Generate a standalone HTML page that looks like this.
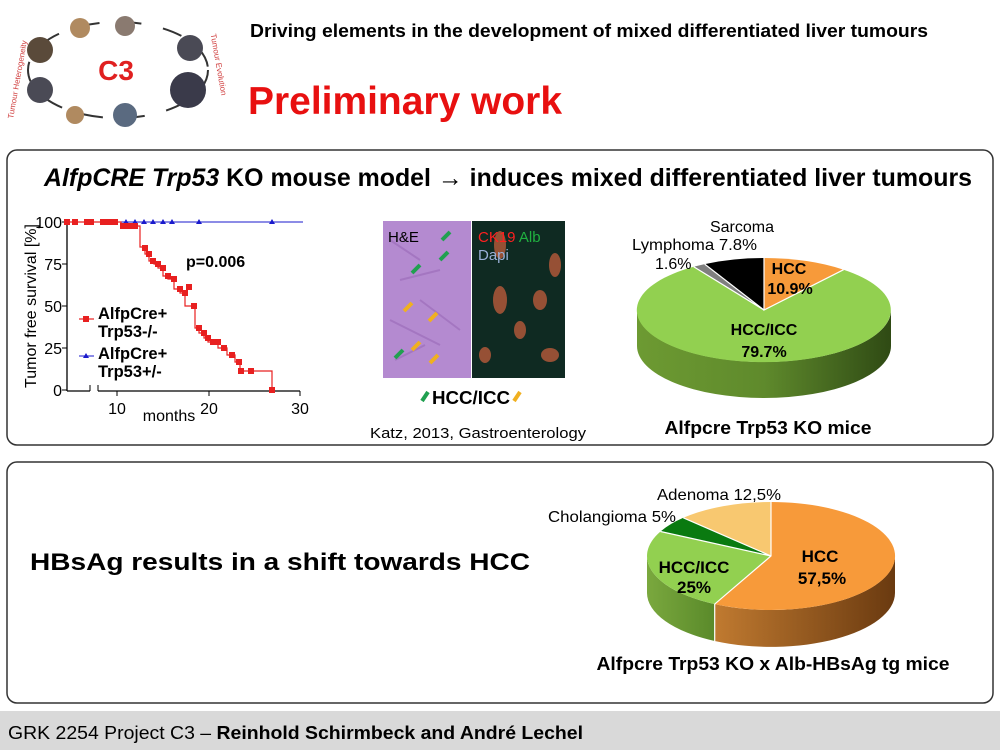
<!DOCTYPE html>
<html><head><meta charset="utf-8"><style>
body{margin:0;width:1000px;height:750px;overflow:hidden;background:#fff;font-family:"Liberation Sans",Arial,sans-serif;}
</style></head><body>
<svg width="1000" height="750" viewBox="0 0 1000 750" xmlns="http://www.w3.org/2000/svg" font-family="Liberation Sans, Arial, sans-serif">
<defs>
<linearGradient id="gs" x1="0" x2="1" y1="0" y2="0"><stop offset="0" stop-color="#6d9a32"/><stop offset="0.5" stop-color="#5f8a2c"/><stop offset="1" stop-color="#2f4a14"/></linearGradient>
<linearGradient id="os" x1="0" x2="1"><stop offset="0" stop-color="#c07a30"/><stop offset="1" stop-color="#6a3a10"/></linearGradient>
<linearGradient id="g2" x1="0" x2="1"><stop offset="0" stop-color="#7aa83e"/><stop offset="1" stop-color="#5a8a2a"/></linearGradient>
</defs>
<g>
<ellipse cx="118" cy="70" rx="90" ry="48" fill="none" stroke="#333" stroke-width="2" stroke-dasharray="20 22"/>
<circle cx="40" cy="50" r="13" fill="#5a4a3a"/><circle cx="40" cy="90" r="13" fill="#4a4a55"/>
<circle cx="80" cy="28" r="10" fill="#b08a60"/><circle cx="125" cy="26" r="10" fill="#8a7a70"/>
<circle cx="190" cy="48" r="13" fill="#4a4a55"/><circle cx="188" cy="90" r="18" fill="#3a3a4a"/>
<circle cx="75" cy="115" r="9" fill="#b08a60"/><circle cx="125" cy="115" r="12" fill="#5a6a80"/>
<text x="116" y="80" font-size="28" font-weight="bold" fill="#e02020" text-anchor="middle">C3</text>
<text transform="translate(20,80) rotate(-80)" font-size="8" fill="#d04040" text-anchor="middle">Tumour Heterogeneity</text>
<text transform="translate(216,65) rotate(80)" font-size="8" fill="#d04040" text-anchor="middle">Tumour Evolution</text>
</g>
<text x="250" y="37" font-size="18" font-weight="bold" fill="#000" textLength="678" lengthAdjust="spacingAndGlyphs">Driving elements in the development of mixed differentiated liver tumours</text>
<text x="248" y="114" font-size="39" font-weight="bold" fill="#e81010" textLength="314" lengthAdjust="spacingAndGlyphs">Preliminary work</text>
<rect x="7" y="150" width="986" height="295" rx="10" fill="none" stroke="#333" stroke-width="1.5"/>
<rect x="7" y="462" width="986" height="241" rx="10" fill="none" stroke="#333" stroke-width="1.5"/>
<text x="44" y="186" font-size="25" font-weight="bold" fill="#000" textLength="928" lengthAdjust="spacingAndGlyphs"><tspan font-style="italic">AlfpCRE Trp53</tspan> KO mouse model → induces mixed differentiated liver tumours</text>
<g font-size="15">
<line x1="67" y1="222" x2="67" y2="391" stroke="#000" stroke-width="1.3"/>
<line x1="67" y1="391" x2="90" y2="391" stroke="#000" stroke-width="1.3"/>
<line x1="98" y1="391" x2="300" y2="391" stroke="#000" stroke-width="1.3"/>
<line x1="90" y1="391" x2="90" y2="385" stroke="#000"/><line x1="98" y1="391" x2="98" y2="385" stroke="#000"/>
<g stroke="#000"><line x1="62" y1="222" x2="67" y2="222"/><line x1="62" y1="264" x2="67" y2="264"/><line x1="62" y1="306" x2="67" y2="306"/><line x1="62" y1="348" x2="67" y2="348"/><line x1="62" y1="390" x2="67" y2="390"/>
<line x1="117" y1="391" x2="117" y2="396"/><line x1="209" y1="391" x2="209" y2="396"/><line x1="300" y1="391" x2="300" y2="396"/></g>
<g text-anchor="end" font-size="16"><text x="62" y="228">100</text><text x="62" y="270">75</text><text x="62" y="312">50</text><text x="62" y="354">25</text><text x="62" y="396">0</text></g>
<g text-anchor="middle" font-size="16"><text x="117" y="414">10</text><text x="209" y="414">20</text><text x="300" y="414">30</text><text x="169" y="421">months</text></g>
<text transform="translate(36,306) rotate(-90)" font-size="16" text-anchor="middle">Tumor free survival [%]</text>
<text x="186" y="267" font-size="16" font-weight="bold">p=0.006</text>
<polyline fill="none" stroke="#1a1acc" stroke-width="1" points="67,222 303,222"/>
<g fill="#1a1acc"><path d="M126,219 l3,5 h-6z"/><path d="M135,219 l3,5 h-6z"/><path d="M144,219 l3,5 h-6z"/><path d="M153,219 l3,5 h-6z"/><path d="M163,219 l3,5 h-6z"/><path d="M172,219 l3,5 h-6z"/><path d="M199,219 l3,5 h-6z"/><path d="M272,219 l3,5 h-6z"/></g>
<polyline fill="none" stroke="#e82020" stroke-width="1.2" points="67,222 121,222 121,226 140,226 140,247 145,247 145,254 149,254 149,261 154,261 154,264 158,264 158,268 163,268 163,276 168,276 168,279 174,279 174,289 180,289 180,293 185,293 185,306 195,306 195,328 199,328 199,333 204,333 204,338 208,338 208,342 218,342 218,348 227,348 227,355 235,355 235,362 240,362 240,371 272,371 272,390"/>
<g fill="#e82020"><rect x="64" y="219" width="6" height="6"/><rect x="72" y="219" width="6" height="6"/><rect x="84" y="219" width="6" height="6"/><rect x="88" y="219" width="6" height="6"/><rect x="100" y="219" width="6" height="6"/><rect x="106" y="219" width="6" height="6"/><rect x="112" y="219" width="6" height="6"/><rect x="120" y="223" width="6" height="6"/><rect x="126" y="223" width="6" height="6"/><rect x="132" y="223" width="6" height="6"/>
<rect x="142" y="245" width="6" height="6"/><rect x="146" y="251" width="6" height="6"/><rect x="150" y="258" width="6" height="6"/><rect x="155" y="261" width="6" height="6"/><rect x="160" y="265" width="6" height="6"/><rect x="165" y="273" width="6" height="6"/><rect x="171" y="276" width="6" height="6"/><rect x="177" y="286" width="6" height="6"/><rect x="182" y="290" width="6" height="6"/><rect x="186" y="284" width="6" height="6"/><rect x="191" y="303" width="6" height="6"/><rect x="196" y="325" width="6" height="6"/><rect x="201" y="330" width="6" height="6"/><rect x="205" y="335" width="6" height="6"/><rect x="210" y="339" width="6" height="6"/><rect x="215" y="339" width="6" height="6"/><rect x="221" y="345" width="6" height="6"/><rect x="229" y="352" width="6" height="6"/><rect x="236" y="359" width="6" height="6"/><rect x="238" y="368" width="6" height="6"/><rect x="248" y="368" width="6" height="6"/><rect x="269" y="387" width="6" height="6"/></g>
<line x1="79" y1="319" x2="94" y2="319" stroke="#e82020" stroke-width="1.2"/><rect x="83" y="316" width="6" height="6" fill="#e82020"/>
<line x1="79" y1="356" x2="94" y2="356" stroke="#1a1acc"/><path d="M86,353 l3,5 h-6z" fill="#1a1acc"/>
<g font-size="16.5" font-weight="bold"><text x="98" y="319">AlfpCre+</text><text x="98" y="337">Trp53-/-</text><text x="98" y="359">AlfpCre+</text><text x="98" y="377">Trp53+/-</text></g>
</g>
<rect x="383" y="221" width="88" height="157" fill="#b48ad0"/>
<g stroke="#9a6ab8" stroke-width="2" opacity="0.6"><path d="M390,240 l30,20 M400,280 l40,-10 M390,320 l50,25 M420,300 l40,30 M395,360 l30,-15"/></g>
<rect x="472" y="221" width="93" height="157" fill="#0f2a22"/>
<g fill="#b85a3a" opacity="0.8"><ellipse cx="500" cy="300" rx="7" ry="14"/><ellipse cx="555" cy="265" rx="6" ry="12"/><ellipse cx="540" cy="300" rx="7" ry="10"/><ellipse cx="520" cy="330" rx="6" ry="9"/><ellipse cx="550" cy="355" rx="9" ry="7"/><ellipse cx="485" cy="355" rx="6" ry="8"/><ellipse cx="500" cy="245" rx="6" ry="14"/></g>
<text x="388" y="242" font-size="15">H&amp;E</text>
<text x="478" y="242" font-size="15" fill="#ff2020">CK19 <tspan fill="#20b040">Alb</tspan></text>
<text x="478" y="260" font-size="15" fill="#9ab0d8">Dapi</text>
<g stroke="#20a050" stroke-width="4"><path d="M450,232 l-8,8"/><path d="M448,252 l-8,8"/><path d="M420,265 l-8,8"/><path d="M403,350 l-8,8"/></g>
<g stroke="#f0b020" stroke-width="4"><path d="M412,303 l-8,8"/><path d="M437,313 l-8,8"/><path d="M420,342 l-8,8"/><path d="M438,355 l-8,8"/></g>
<path d="M428,392 l-6,9" stroke="#20a050" stroke-width="4"/>
<text x="432" y="404" font-size="18" font-weight="bold" textLength="78" lengthAdjust="spacingAndGlyphs">HCC/ICC</text>
<path d="M520,392 l-6,9" stroke="#f0b020" stroke-width="4"/>
<text x="478" y="438" font-size="15" text-anchor="middle" textLength="216" lengthAdjust="spacingAndGlyphs">Katz, 2013, Gastroenterology</text>
<path d="M891,310 A127,52 0 0 1 637,310 L637,346 A127,52 0 0 0 891,346 Z" fill="url(#gs)"/>
<path d="M764,310 L764,258 A127,52 0 0 1 843.6,269.7 Z" fill="#f79a3a"/>
<path d="M764,310 L843.6,269.7 A127,52 0 1 1 693.7,266.8 Z" fill="#92d050"/>
<path d="M764,310 L693.7,266.8 A127,52 0 0 1 704.7,264.1 Z" fill="#7f7f7f"/>
<path d="M764,310 L704.7,264.1 A127,52 0 0 1 764,258 Z" fill="#000"/>
<g stroke="#fff" stroke-width="1.2" fill="none"><path d="M764,258 L764,310 L843.6,269.7 M764,310 L693.7,266.8 M764,310 L704.7,264.1"/></g>
<text x="742" y="232" font-size="16" text-anchor="middle">Sarcoma</text>
<text x="632" y="250" font-size="16" textLength="125" lengthAdjust="spacingAndGlyphs">Lymphoma 7.8%</text>
<text x="655" y="269" font-size="16">1.6%</text>
<g font-size="16" font-weight="bold" text-anchor="middle"><text x="789" y="274">HCC</text><text x="790" y="294">10.9%</text><text x="764" y="335">HCC/ICC</text><text x="764" y="357">79.7%</text></g>
<text x="768" y="434" font-size="18" font-weight="bold" text-anchor="middle" textLength="207" lengthAdjust="spacingAndGlyphs">Alfpcre Trp53 KO mice</text>
<text x="30" y="570" font-size="24" font-weight="bold" textLength="500" lengthAdjust="spacingAndGlyphs">HBsAg results in a shift towards HCC</text>
<path d="M895,556 A124,54 0 0 1 714.7,604.1 L714.7,641 A124,54 0 0 0 895,593 Z" fill="url(#os)"/>
<path d="M714.7,604.1 A124,54 0 0 1 647,556 L647,593 A124,54 0 0 0 714.7,641 Z" fill="url(#g2)"/>
<path d="M771,556 L771,502 A124,54 0 1 1 714.7,604.1 Z" fill="#f79a3a"/>
<path d="M771,556 L714.7,604.1 A124,54 0 0 1 660.5,531.5 Z" fill="#92d050"/>
<path d="M771,556 L660.5,531.5 A124,54 0 0 1 683.3,517.8 Z" fill="#0a7a10"/>
<path d="M771,556 L683.3,517.8 A124,54 0 0 1 771,502 Z" fill="#f8c870"/>
<g stroke="#fff" stroke-width="1.2" fill="none"><path d="M771,502 L771,556 L714.7,604.1 L714.7,641 M771,556 L660.5,531.5 M771,556 L683.3,517.8"/></g>
<text x="657" y="500" font-size="16" textLength="124" lengthAdjust="spacingAndGlyphs">Adenoma 12,5%</text>
<text x="548" y="522" font-size="16" textLength="128" lengthAdjust="spacingAndGlyphs">Cholangioma 5%</text>
<g font-size="17" font-weight="bold" text-anchor="middle"><text x="820" y="562">HCC</text><text x="822" y="584">57,5%</text><text x="694" y="573">HCC/ICC</text><text x="694" y="593">25%</text></g>
<text x="773" y="670" font-size="18" font-weight="bold" text-anchor="middle" textLength="353" lengthAdjust="spacingAndGlyphs">Alfpcre Trp53 KO x Alb-HBsAg tg mice</text>
<rect x="0" y="711" width="1000" height="39" fill="#d9d9d9"/>
<text x="8" y="739" font-size="18" textLength="575" lengthAdjust="spacingAndGlyphs">GRK 2254 Project C3 – <tspan font-weight="bold">Reinhold Schirmbeck and André Lechel</tspan></text>
</svg>
</body></html>
